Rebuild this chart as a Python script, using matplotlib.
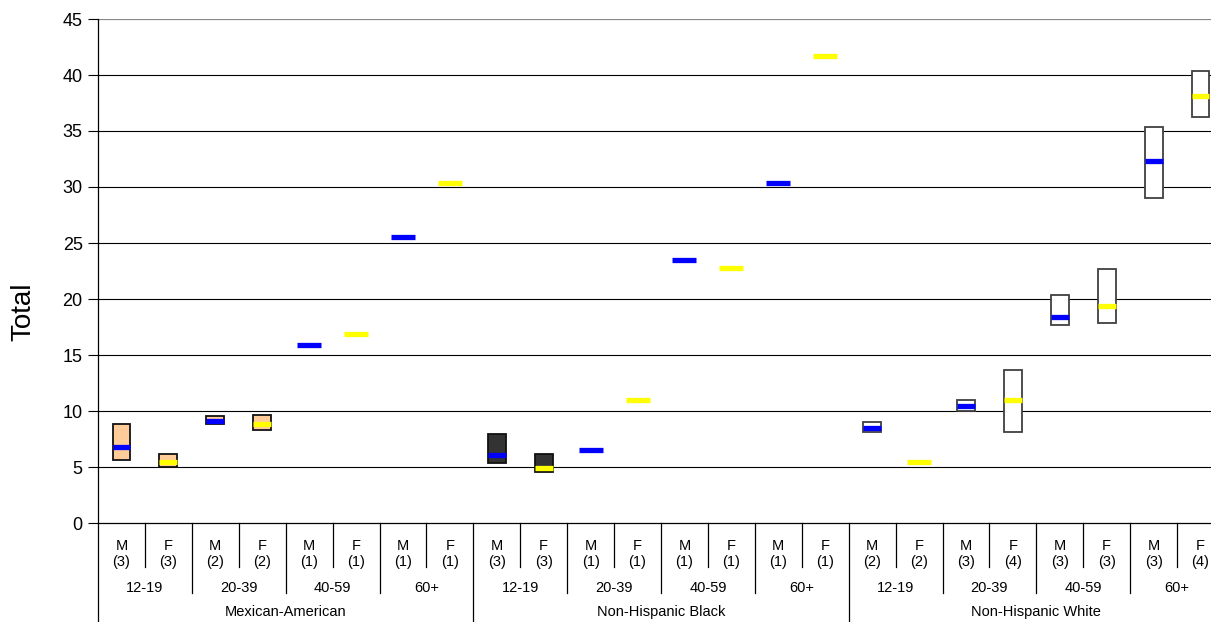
import matplotlib
matplotlib.use("Agg")
import matplotlib.pyplot as plt
import matplotlib.transforms as mtransforms

plt.rcParams['font.family'] = ['Liberation Sans', 'DejaVu Sans']

groups = ["Mexican-American", "Non-Hispanic Black", "Non-Hispanic White"]
ages = ["12-19", "20-39", "40-59", "60+"]
sexes = ["M", "F"]
group_fill = ["#FFCC99", "#333333", "#FFFFFF"]

# per category, order: group -> age -> sex
counts = [3, 3, 2, 2, 1, 1, 1, 1,
          3, 3, 1, 1, 1, 1, 1, 1,
          2, 2, 3, 4, 3, 3, 3, 4]
lows = [5.6, 5.03, 8.84, 8.27, 15.9, 16.9, 25.5, 30.4,
        5.33, 4.52, 6.55, 10.98, 23.5, 22.8, 30.4, 41.7,
        8.15, 5.42, 10.03, 8.1, 17.68, 17.86, 29.0, 36.25]
highs = [8.81, 6.16, 9.55, 9.64, 15.9, 16.9, 25.5, 30.4,
         7.95, 6.13, 6.55, 10.98, 23.5, 22.8, 30.4, 41.7,
         8.99, 5.42, 11.01, 13.66, 20.36, 22.68, 35.33, 40.38]
medians = [6.79, 5.45, 9.13, 8.8, 15.9, 16.9, 25.5, 30.4,
           6.07, 4.9, 6.55, 10.98, 23.5, 22.8, 30.4, 41.7,
           8.51, 5.42, 10.48, 10.98, 18.4, 19.4, 32.35, 38.15]
sex_color = {"M": "#0000FF", "F": "#FFFF00"}

fig = plt.figure(figsize=(12.11, 6.22), dpi=100)
ax = fig.add_axes([98 / 1211, 99 / 622, 1126 / 1211, 504 / 622])

n_cat = len(counts)
ax.set_xlim(0, n_cat)
ax.set_ylim(0, 45)
ax.set_yticks(range(0, 46, 5))
ax.tick_params(axis='y', labelsize=13, length=7, width=0.8, direction='out', pad=4)
ax.set_xticks([])
for y in range(5, 45, 5):
    ax.axhline(y, color='black', lw=0.8, zorder=1)
ax.axhline(45, color='#888888', lw=0.9, zorder=1)
for s in ['top', 'right']:
    ax.spines[s].set_visible(False)
ax.spines['left'].set_linewidth(0.9)
ax.spines['bottom'].set_linewidth(0.9)
fig.text(23 / 1211, 1 - 312 / 622, "Total", rotation=90, fontsize=20,
         ha='center', va='center')

box_w = 0.38
single_w = 0.51
idx = 0
for gi, g in enumerate(groups):
    for ai, a in enumerate(ages):
        for si, s in enumerate(sexes):
            x = idx + 0.5
            lo, hi, md = lows[idx], highs[idx], medians[idx]
            if hi - lo > 1e-9:
                edge = '#404040' if gi == 2 else '#111111'
                ax.bar(x, hi - lo, bottom=lo, width=box_w, color=group_fill[gi],
                       edgecolor=edge, linewidth=1.3, zorder=3)
                ax.hlines(md, x - box_w / 2, x + box_w / 2, colors=sex_color[s],
                          lw=3.8, zorder=4)
            else:
                ax.hlines(md, x - single_w / 2, x + single_w / 2, colors=sex_color[s],
                          lw=3.8, zorder=4)
            idx += 1

trans = mtransforms.blended_transform_factory(ax.transData, ax.transAxes)
px = 1.0 / 504
fs = 10.5
idx = 0
for gi, g in enumerate(groups):
    for ai, a in enumerate(ages):
        for si, s in enumerate(sexes):
            x = idx + 0.5
            ax.text(x, -23 * px, s, transform=trans, ha='center', va='center',
                    fontsize=fs, clip_on=False)
            ax.text(x, -39 * px, "(%d)" % counts[idx], transform=trans, ha='center',
                    va='center', fontsize=fs, clip_on=False)
            idx += 1
        xa = gi * 8 + ai * 2 + 1
        ax.text(xa, -65.5 * px, a, transform=trans, ha='center', va='center',
                fontsize=fs, clip_on=False)
    ax.text(gi * 8 + 4, -89 * px, g, transform=trans, ha='center', va='center',
            fontsize=fs, clip_on=False)

# separators
for b in range(n_cat + 1):
    if b % 8 == 0:
        bottom = -110 * px
    elif b % 2 == 0:
        bottom = -70 * px
    else:
        bottom = -44 * px
    ax.plot([b, b], [0, bottom], transform=trans, color='black', lw=0.9,
            clip_on=False, zorder=5)

fig.savefig("out.png", dpi=100)
